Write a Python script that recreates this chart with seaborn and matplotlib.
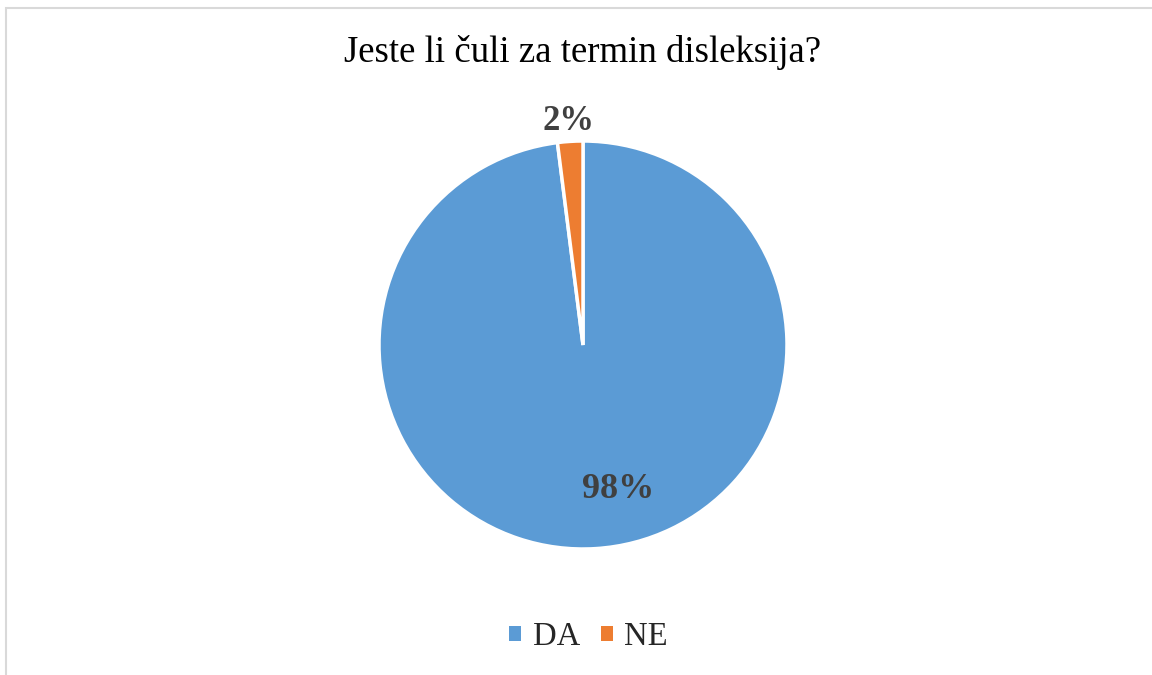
import matplotlib; matplotlib.use('Agg')
import matplotlib.pyplot as plt
import seaborn as sns
from matplotlib.patches import Rectangle, Patch

sns.set_theme(style='white')
plt.rcParams['font.family'] = ['Liberation Serif', 'DejaVu Serif']

# ─── Data ───
labels = ['DA', 'NE']
values = [98, 2]
colors = ['#5B9BD5', '#ED7D31']
title = 'Jeste li čuli za termin disleksija?'

fig = plt.figure(figsize=(11.52, 6.75), dpi=100)
W, H = 1152, 675
# pie area: centre (583, 345) px, radius 204 px
cx, cy, r = 583, 345, 204
ax = fig.add_axes([(cx - r) / W, (H - cy - r) / H, 2 * r / W, 2 * r / H])

wedges, texts, autotexts = ax.pie(
    values, colors=colors, startangle=90, counterclock=False,
    autopct='%1.0f%%', pctdistance=1.1, radius=1,
    wedgeprops=dict(edgecolor='white', linewidth=2.5),
    textprops=dict(fontsize=25, fontweight='bold', color='#404040'))
ax.set_xlim(-1, 1); ax.set_ylim(-1, 1)
ax.set_aspect('equal')
# Excel places the big slice label inside the slice
autotexts[0].set_position((0.17, -0.71))
autotexts[0].set_fontsize(26)

fig.text(0.506, 1 - 53 / H, title, ha='center', va='center', fontsize=26.5, color='black')

handles = [Patch(facecolor=c, edgecolor='none') for c in colors]
fig.legend(handles, labels, loc='center', bbox_to_anchor=(0.511, 1 - 637 / H),
           ncol=2, frameon=False, fontsize=23.5, handlelength=0.36, handleheight=0.36,
           handletextpad=0.35, columnspacing=0.65)

fig.patches.append(Rectangle((6 / W, -1), 2, 2 - 8 / H, transform=fig.transFigure,
                             fill=False, edgecolor='#D9D9D9', linewidth=1.5))

plt.savefig('out.png', dpi=100)
plt.close()
